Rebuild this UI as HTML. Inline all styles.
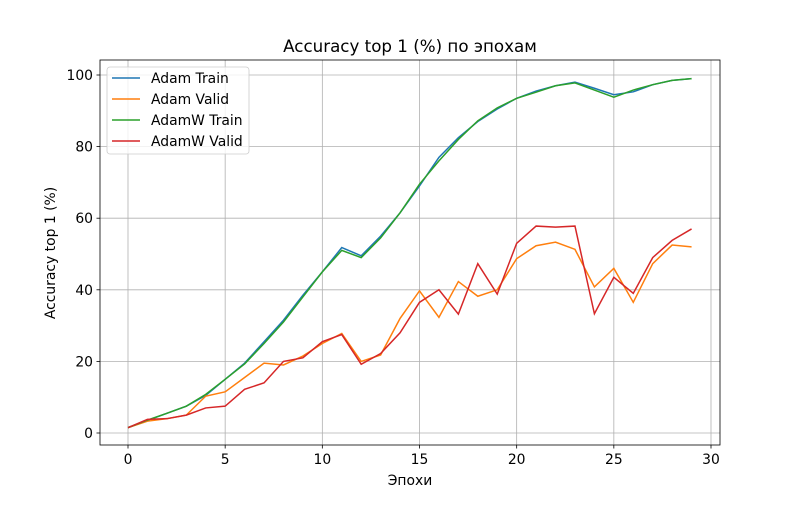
<!DOCTYPE html>
<html><head><meta charset="utf-8"><style>
body{margin:0;background:#fff;font-family:"Liberation Sans","DejaVu Sans",sans-serif}
svg text{font-family:"DejaVu Sans","Liberation Sans",sans-serif}
</style></head><body>
<svg id="c" width="800" height="500"></svg>
<script>
const epochs=[...Array(30).keys()];
const adamTrain=[1.5,3.5,5.5,7.5,10.5,15,19.5,25.5,31.5,38.5,45,51.8,49.5,55,61.5,69,77,82.5,87,90.5,93.5,95.5,97,98,96.3,94.5,95.3,97.3,98.5,99];
const adamValid=[1.5,3.3,4,5,10.3,11.5,15.5,19.5,19,21.5,25,27.8,20,21.8,32,39.7,32.3,42.3,38.2,40,48.7,52.3,53.3,51.3,40.8,46,36.5,47.3,52.5,52];
const adamwTrain=[1.5,3.6,5.5,7.5,10.8,15,19.3,25,31,38,45,51,49,54.5,61.5,69.5,76,82,87.2,90.8,93.5,95.2,97,97.8,95.8,93.8,95.8,97.3,98.5,99];
const adamwValid=[1.5,3.8,4,5,7,7.5,12.2,14,20,21,25.5,27.5,19.2,22.2,28,36.5,40,33.2,47.3,38.8,53,57.8,57.5,57.8,33.3,43.5,39,49,53.8,57];
const xTicks=[0,5,10,15,20,25,30];
const yTicks=[0,20,40,60,80,100];
const L=100,R=720,T=60,B=445;
const X=v=>128+v*(711-128)/30;
const Y=v=>433-v*(433-75)/100;
const s=document.getElementById('c');const NS='http://www.w3.org/2000/svg';
function mk(t,a,p){const e=document.createElementNS(NS,t);for(const k in a)e.setAttribute(k,a[k]);(p||s).appendChild(e);return e;}
xTicks.forEach(t=>{const g=mk('g',{});


mk('line',{x1:X(t),x2:X(t),y1:T,y2:B,stroke:'#b0b0b0','stroke-width':0.8},g);
mk('line',{x1:X(t),x2:X(t),y1:B,y2:B+3.5,stroke:'#000','stroke-width':0.8},g);
const tx=mk('text',{x:X(t),y:B+19,'font-size':13.9,'text-anchor':'middle'},g);tx.textContent=t;});
yTicks.forEach(t=>{const g=mk('g',{});


mk('line',{x1:L,x2:R,y1:Y(t),y2:Y(t),stroke:'#b0b0b0','stroke-width':0.8},g);
mk('line',{x1:L-3.5,x2:L,y1:Y(t),y2:Y(t),stroke:'#000','stroke-width':0.8},g);
const tx=mk('text',{x:L-7,y:Y(t)+5,'font-size':13.9,'text-anchor':'end'},g);tx.textContent=t;});
const series=[[adamTrain,'#1f77b4','adam-train-line','Adam Train'],[adamValid,'#ff7f0e','adam-valid-line','Adam Valid'],[adamwTrain,'#2ca02c','adamw-train-line','AdamW Train'],[adamwValid,'#d62728','adamw-valid-line','AdamW Valid']];
series.forEach(([d,c,n])=>{const p=mk('polyline',{points:d.map((v,i)=>X(epochs[i])+','+Y(v)).join(' '),fill:'none',stroke:c,'stroke-width':1.5});

});
const fr=mk('rect',{x:L,y:T,width:R-L,height:B-T,fill:'none',stroke:'#000','stroke-width':0.8});


const tt=mk('text',{x:410,y:52,'font-size':16.7,'text-anchor':'middle'});tt.textContent='Accuracy top 1 (%) по эпохам';


const xl=mk('text',{x:410,y:485,'font-size':13.9,'text-anchor':'middle'});xl.textContent='Эпохи';


const yl=mk('text',{x:55,y:253,'font-size':13.9,'text-anchor':'middle',transform:'rotate(-90 55 253)'});yl.textContent='Accuracy top 1 (%)';


const lg=mk('g',{});


mk('rect',{x:107,y:67,width:142,height:87,rx:3,fill:'#fff','fill-opacity':0.8,stroke:'#ccc','stroke-width':0.8},lg);
series.forEach(([d,c,n,lab],i)=>{const g=mk('g',{},lg);


const y=78+i*21;mk('line',{x1:112,x2:140,y1:y,y2:y,stroke:c,'stroke-width':1.5},g);
const t=mk('text',{x:151,y:y+5,'font-size':13.9},g);t.textContent=lab;});
</script>
</body></html>
